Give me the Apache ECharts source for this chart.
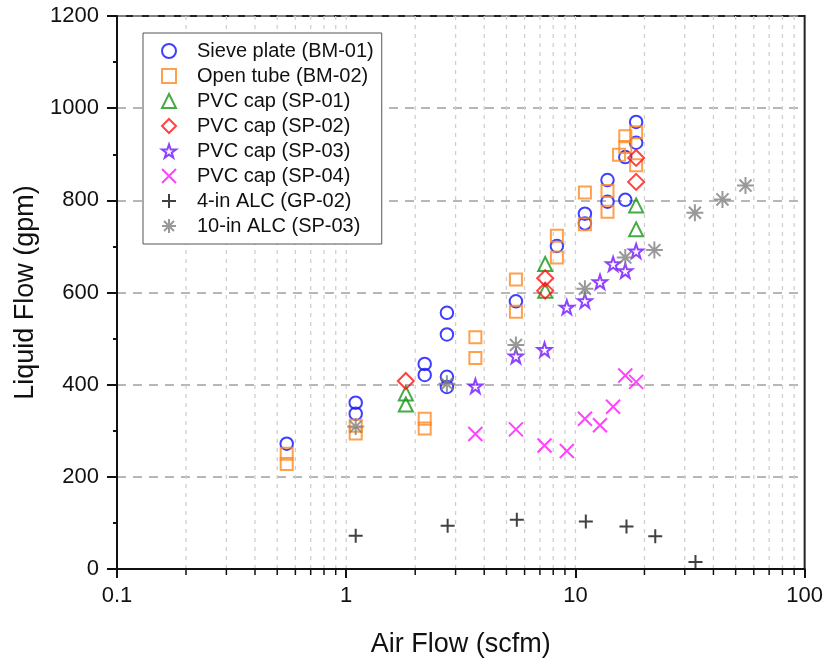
<!DOCTYPE html>
<html><head><meta charset="utf-8">
<script src="https://cdn.jsdelivr.net/npm/echarts@6/dist/echarts.min.js"></script>
<style>html,body{margin:0;padding:0;background:#fff}#c{width:826px;height:663px}</style>
</head><body><div id="c"></div>
<script>
const seriesNames = ['Sieve plate (BM-01)','Open tube (BM-02)','PVC cap (SP-01)','PVC cap (SP-02)','PVC cap (SP-03)','PVC cap (SP-04)','4-in ALC (GP-02)','10-in ALC (SP-03)'];
const sieveBM01 = [[0.55,272],[1.1,361],[1.1,337],[2.2,445],[2.2,421],[2.75,556],[2.75,509],[2.75,417],[2.75,395],[5.5,581],[8.3,701],[11.0,771],[11.0,750],[13.8,844],[13.8,797],[16.5,894],[16.5,801],[18.4,970],[18.4,925]];
const openBM02 = [[0.55,250],[0.55,228],[1.1,311],[1.1,294],[2.2,326],[2.2,305],[3.66,503],[3.66,458],[5.5,628],[5.5,558],[8.3,723],[8.3,676],[11.0,817],[11.0,748],[13.8,820],[13.8,775],[15.5,899],[16.5,939],[16.5,916],[18.4,948],[18.4,876]];
const pvcSP01 = [[1.82,381],[1.82,357],[7.38,662],[7.38,604],[18.4,789],[18.4,737]];
const pvcSP02 = [[1.82,408],[7.38,631],[7.38,604],[18.4,892],[18.4,840]];
const pvcSP03 = [[3.66,397],[5.5,462],[7.33,476],[9.17,568],[11.0,582],[12.8,623],[14.6,662],[16.5,647],[18.4,690]];
const pvcSP04 = [[3.66,293],[5.5,303],[7.33,268],[9.17,256],[11.0,326],[12.8,312],[14.6,352],[16.5,420],[18.4,406]];
const alc4GP02 = [[1.1,72],[2.77,94],[5.55,107],[11.1,103],[16.7,92],[22.3,71],[33.4,15]];
const alc10SP03 = [[1.1,309],[2.75,402],[5.5,486],[11.0,608],[16.5,676],[22.1,692],[33.2,773],[43.8,802],[55.2,832]];
const xMinorVals = [0.2,0.3,0.4,0.5,0.6,0.7,0.8,0.9,2,3,4,5,6,7,8,9,20,30,40,50,60,70,80,90];
const xGridVals = [0.2,0.3,0.4,0.5,0.6,0.7,0.8,0.9,1,2,3,4,5,6,7,8,9,10,20,30,40,50,60,70,80,90];
const yMin = 0, yMax = 1200, yStep = 200;
const xMin = 0.1, xMax = 100;

const FONT = 'Arial, "Liberation Sans", sans-serif';
const SYM = {
  star: 'path://M50,0 L61.8,35.1 L98.1,35.1 L68.8,56.7 L79.4,91 L50,70 L20.6,91 L31.2,56.7 L1.9,35.1 L38.2,35.1 Z',
  cross: 'path://M0,0L10,10M10,0L0,10',
  plus: 'path://M5,0L5,10M0,5L10,5',
  aster: 'path://M5,0L5,10M0,5L10,5M1.46,1.46L8.54,8.54M8.54,1.46L1.46,8.54'
};
const defs = [
  {data: sieveBM01, sym:'circle', size:12.5, c:'#0f0fff'},
  {data: openBM02, sym:'rect', size:12, c:'#ff8a1f'},
  {data: pvcSP01, sym:'triangle', size:14, c:'#159615'},
  {data: pvcSP02, sym:'diamond', size:16, c:'#ff1414'},
  {data: pvcSP03, sym:SYM.star, size:14, c:'#7414ff'},
  {data: pvcSP04, sym:SYM.cross, size:14, c:'#ff14ff'},
  {data: alc4GP02, sym:SYM.plus, size:14, c:'#111111'},
  {data: alc10SP03, sym:SYM.aster, size:17, c:'#808080'}
];
const series = [{
  type:'custom', name:'grid', silent:true, clip:false, z:0,
  data: xGridVals.map(v=>[v]),
  renderItem: function(params, api){
    const v = api.value(0);
    const top = api.coord([v, yMax]);
    const bot = api.coord([v, yMin]);
    const children = [{type:'line', shape:{x1:top[0],y1:top[1],x2:bot[0],y2:bot[1]}, style:{stroke:'#cfcfcf', lineWidth:1.3, lineDash:[4,5]}}];
    if (xMinorVals.indexOf(v) >= 0) {
      children.push({type:'line', shape:{x1:bot[0],y1:bot[1],x2:bot[0],y2:bot[1]+6}, style:{stroke:'#111', lineWidth:1.5}});
    }
    return {type:'group', children: children};
  }
}];
defs.forEach((d,i)=>{
  series.push({
    type:'scatter', name: seriesNames[i], data: d.data, symbol: d.sym, symbolSize: d.size, z: 3,
    itemStyle:{color:'rgba(0,0,0,0)', borderColor:d.c, borderWidth:2}
  });
});
const chart = echarts.init(document.getElementById('c'), null, {renderer:'canvas'});
chart.setOption({
  animation:false,
  textStyle:{fontFamily:FONT},
  grid:{left:117, right:20, top:16, bottom:92, show:true, borderColor:'#222', borderWidth:2, backgroundColor:'transparent'},
  legend:{
    data: seriesNames, orient:'vertical', left:143, top:33,
    backgroundColor:'#fff', borderColor:'#555', borderWidth:1,
    padding:[8,8,8,18], itemWidth:14, itemHeight:14, itemGap:5,
    textStyle:{fontSize:20, color:'#111', fontFamily:FONT, padding:[0,0,0,16]}
  },
  xAxis:{
    type:'log', logBase:10, min:xMin, max:xMax,
    name:'Air Flow (scfm)', nameLocation:'middle', nameGap:62,
    nameTextStyle:{fontSize:27, color:'#111', fontFamily:FONT},
    axisLine:{lineStyle:{color:'#111', width:2}},
    axisTick:{show:true, inside:false, length:9, lineStyle:{color:'#111', width:2}},
    axisLabel:{fontSize:22, color:'#111', margin:16, fontFamily:FONT},
    splitLine:{show:false}, minorTick:{show:false}, minorSplitLine:{show:false}
  },
  yAxis:{
    type:'value', min:yMin, max:yMax, interval:yStep,
    name:'Liquid Flow (gpm)', nameLocation:'middle', nameGap:74,
    nameTextStyle:{fontSize:27, color:'#111', fontFamily:FONT},
    axisLine:{show:true, lineStyle:{color:'#111', width:2}},
    axisTick:{show:true, inside:false, length:10, lineStyle:{color:'#111', width:2}},
    minorTick:{show:true, splitNumber:2, length:4, lineStyle:{color:'#111', width:2}},
    axisLabel:{fontSize:22, color:'#111', margin:18, fontFamily:FONT, formatter: v => String(v)},
    splitLine:{show:true, lineStyle:{color:'#a0a0a0', width:1.6, type:[9,7]}}
  },
  series: series
});
</script></body></html>
